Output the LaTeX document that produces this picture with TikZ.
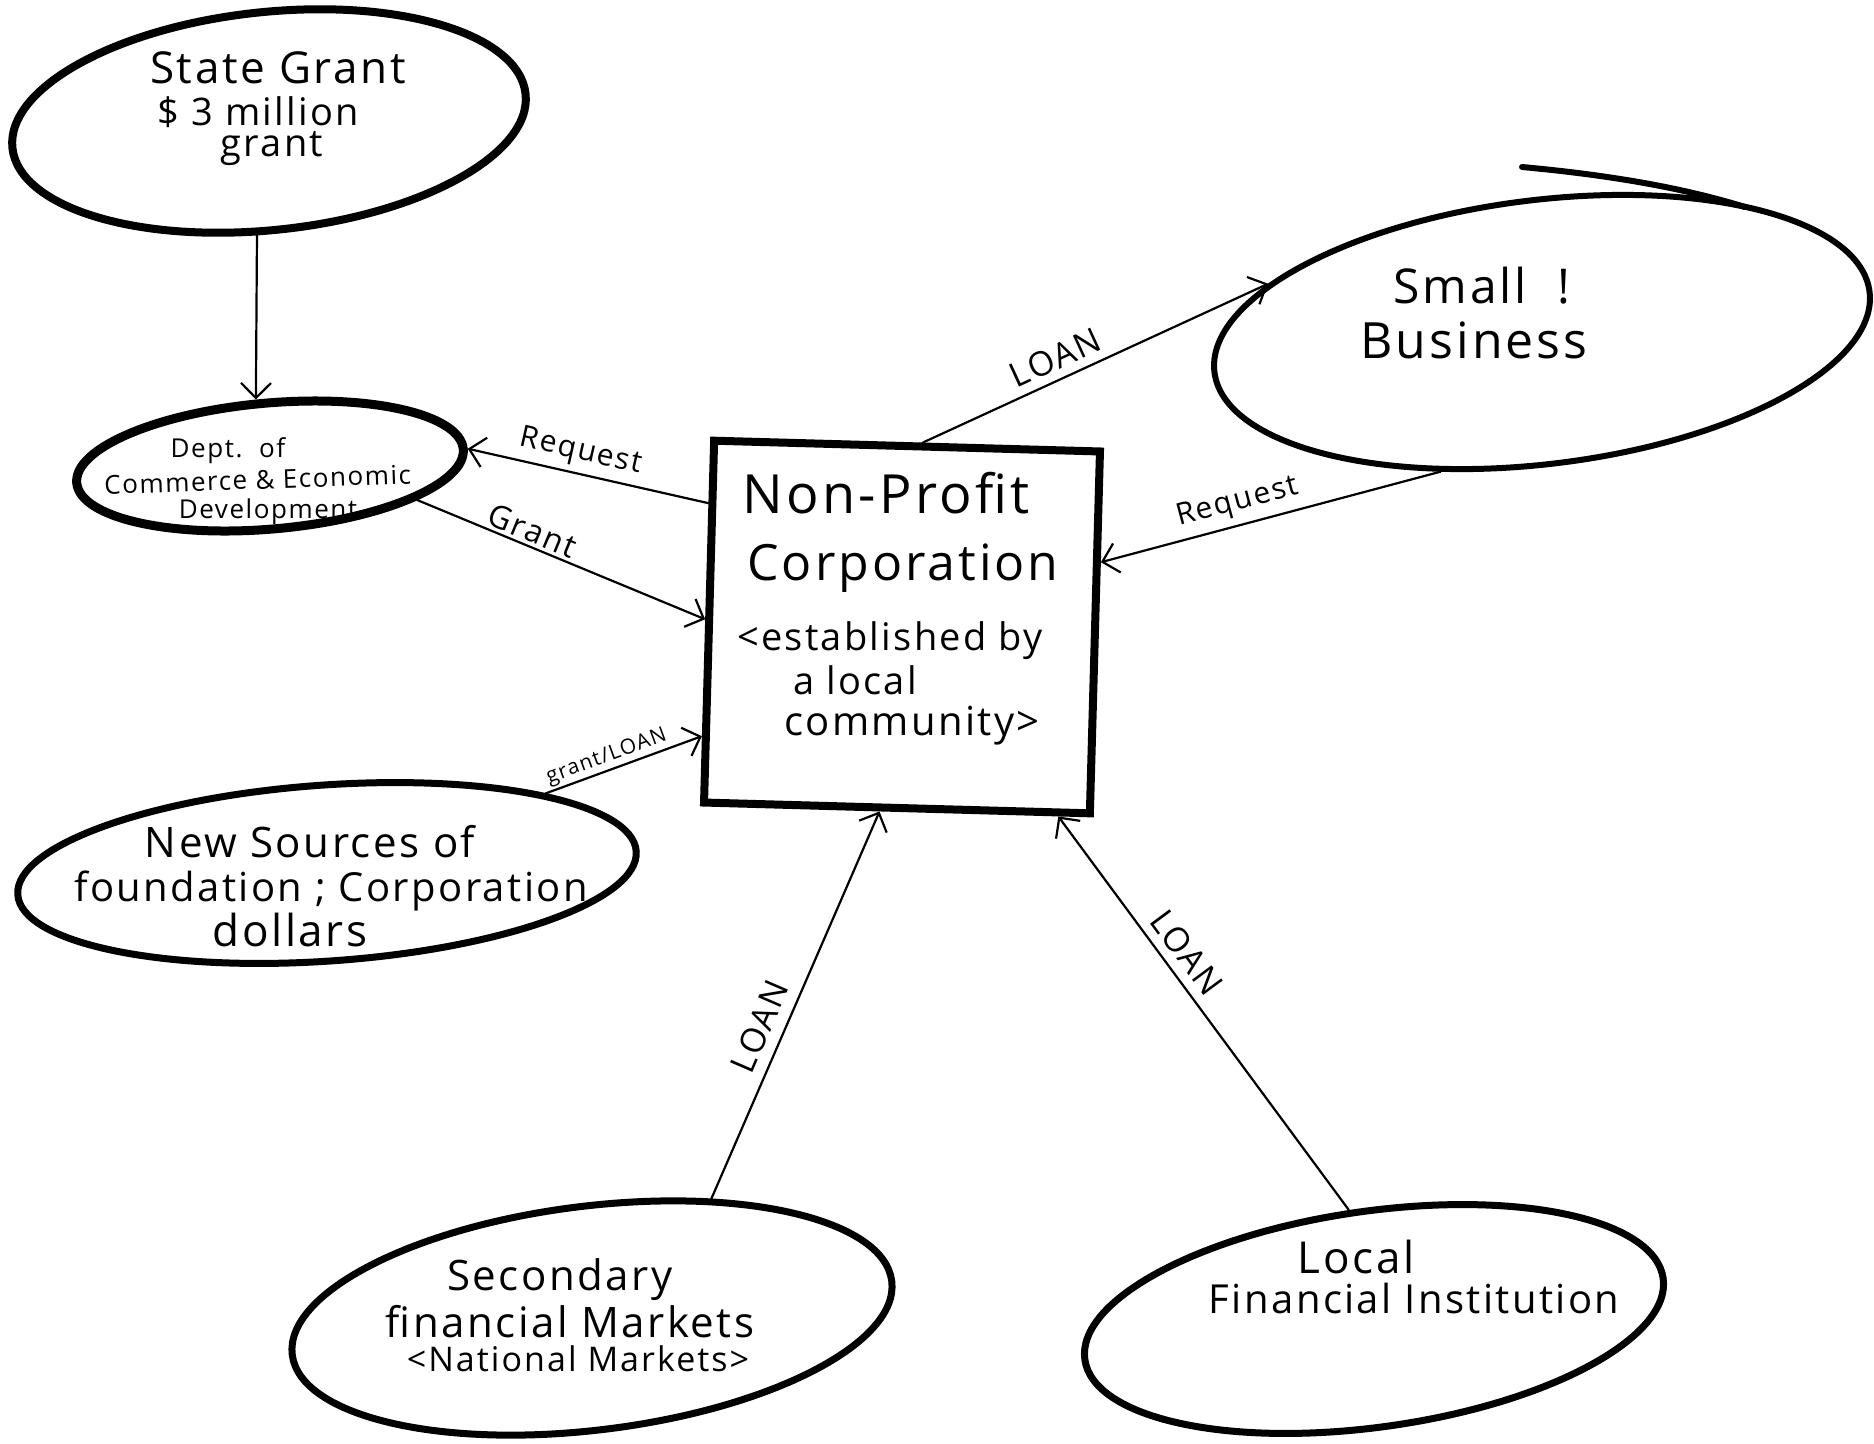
\documentclass[tikz,border=0pt]{standalone}
\usepackage{fontspec}
\setmainfont{Open Sans}[LetterSpace=6]
\usetikzlibrary{arrows.meta,calc,shapes.geometric}
\newcommand{\fsz}[1]{\fontsize{#1}{#1}\selectfont}
\tikzset{
  ovalline/.style={draw, ellipse, inner sep=0pt, line width=7pt},
  boxline/.style={draw, rectangle, inner sep=0pt, line width=8pt},
  txt/.style={inner sep=0pt, anchor=base},
  flow/.style={line width=2.2pt, line cap=round, -{Straight Barb[length=15pt,width=30pt]}},
  lab/.style={sloped, inner sep=2pt}
}
\begin{document}
\begin{tikzpicture}[x=1pt,y=-1pt]
\useasboundingbox (0,0) rectangle (1874,1443);
\fill[white] (0,0) rectangle (1874,1443);

% shapes
\node[ovalline, line width=8pt, minimum width=516pt, minimum height=218pt, rotate=6] (sg) at (269,121) {};
\node[ovalline, line width=9pt, minimum width=388pt, minimum height=126pt, rotate=5] (dept) at (270,466) {};
\node[boxline, minimum width=386pt, minimum height=362pt, rotate=-1.6] (npc) at (902,627) {};
\node[ovalline, line width=6pt, minimum width=660pt, minimum height=264pt, rotate=7] (sb) at (1542,332) {};
\draw[line width=6pt, line cap=round] (1522,167) .. controls (1620,176) and (1690,190) .. (1745,207);
\node[ovalline, minimum width=620pt, minimum height=176pt, rotate=4] (ns) at (327,873) {};
\node[ovalline, minimum width=604pt, minimum height=224pt, rotate=7] (sec) at (592,1318) {};
\node[ovalline, minimum width=584pt, minimum height=216pt, rotate=8] (loc) at (1374,1319) {};

% texts
\node[txt, font=\fsz{44}] (sgt1) at (278,83) {State Grant};
\node[txt, font=\fsz{38}] (sgt2) at (258,125) {\$ 3 million};
\node[txt, font=\fsz{38}] (sgt3) at (272,156) {grant};

\node[txt, font=\fsz{26}] (dt1) at (228,457) {Dept.\ \ of};
\node[txt, font=\fsz{26}, rotate=2] (dt2) at (258,489) {Commerce \& Economic};
\node[txt, font=\fsz{26}] (dt3) at (268,518) {Development};

\node[txt, font=\fsz{54}] (n1) at (886,513) {Non-Profit};
\node[txt, font=\fsz{50}] (n2) at (903,580) {Corporation};
\node[txt, font=\fsz{38}] (n3) at (890,650) {<established by};
\node[txt, font=\fsz{38}] (n4) at (855,694) {a local};
\node[txt, font=\fsz{40}] (n5) at (912,735) {community>};

\node[txt, font=\fsz{48}] (sbt1) at (1482,303) {Small\ \ !};
\node[txt, font=\fsz{50}] (sbt2) at (1474,358) {Business};

\node[txt, font=\fsz{42}] (nst1) at (310,857) {New Sources of};
\node[txt, font=\fsz{40}] (nst2) at (331,901) {foundation ; Corporation};
\node[txt, font=\fsz{44}] (nst3) at (290,946) {dollars};

\node[txt, font=\fsz{42}] (st1) at (560,1290) {Secondary};
\node[txt, font=\fsz{42}] (st2) at (570,1337) {financial Markets};
\node[txt, font=\fsz{34}] (st3) at (578,1371) {<National Markets>};

\node[txt, font=\fsz{44}] (lt1) at (1356,1273) {Local};
\node[txt, font=\fsz{40}] (lt2) at (1414,1313) {Financial Institution};

% connectors
\draw[flow] (sg.258) -- (dept.97);
\draw[flow] ($(npc.north west)!0.18!(npc.south west)$) -- node[lab, pos=0.55, above=4pt, font=\fsz{30}] (l1) {Request} (dept.0);
\draw[flow] (dept.342) -- node[lab, pos=0.38, above=1pt, font=\fsz{32}] (l2) {Grant} ($(npc.north west)!0.494!(npc.south west)$);
\draw[flow] (ns.16) -- node[lab, pos=0.42, above=0pt, font=\fsz{21}] (l3) {grant/LOAN} ($(npc.north west)!0.81!(npc.south west)$);
\draw[flow] ($(npc.north west)!0.54!(npc.north east)$) -- node[lab, pos=0.41, above=6pt, font=\fsz{34}] (l4) {LOAN} (sb.163);
\draw[flow] (sb.227) -- node[lab, pos=0.58, above=5pt, font=\fsz{30}] (l5) {Request} ($(npc.north east)!0.31!(npc.south east)$);
\draw[flow] (sec.38) -- node[lab, pos=0.42, above=9pt, font=\fsz{34}] (l6) {LOAN} ($(npc.south west)!0.456!(npc.south east)$);
\draw[flow] (loc.95) -- node[lab, pos=0.62, above=7pt, font=\fsz{34}] (l7) {LOAN} ($(npc.south west)!0.91!(npc.south east)$);
\end{tikzpicture}
\end{document}
